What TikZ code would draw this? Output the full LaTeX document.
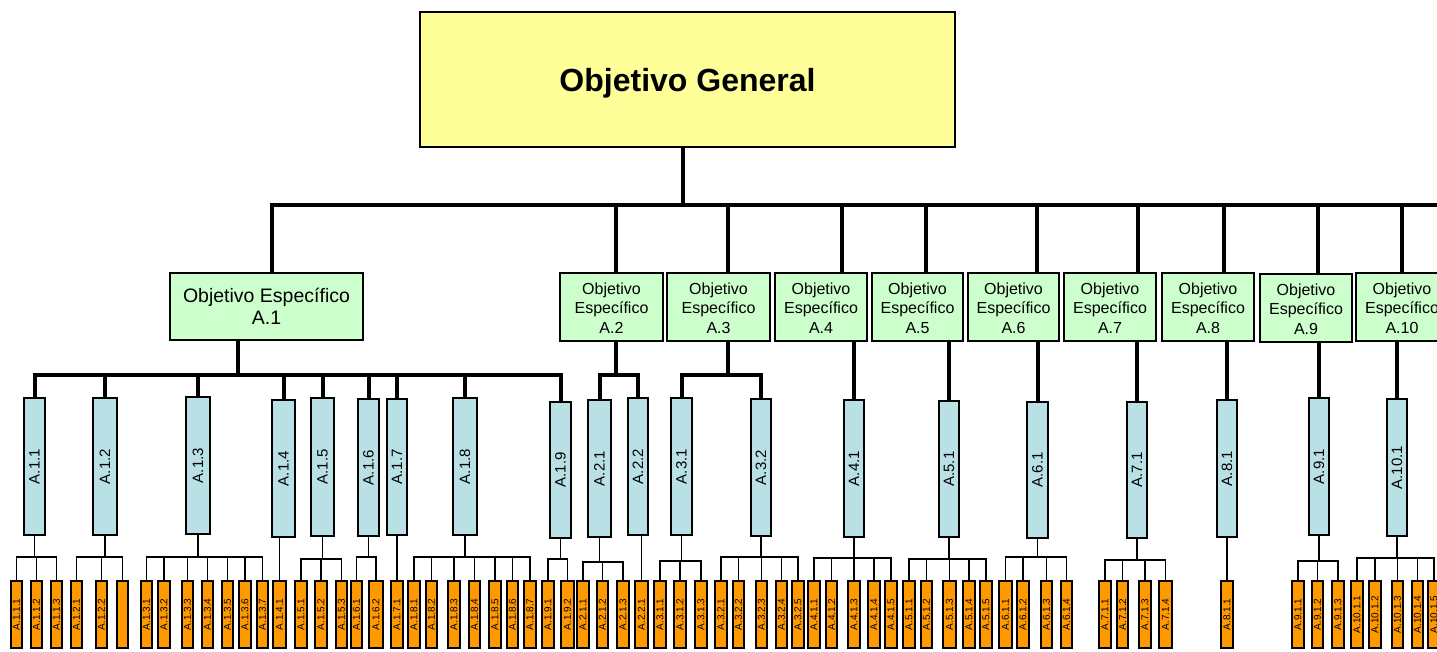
\documentclass[tikz,border=0pt]{standalone}
\usepackage{fontspec}
\setmainfont{Liberation Sans}
\usepackage{graphicx}
\usetikzlibrary{calc}
\definecolor{yel}{RGB}{255,255,153}
\definecolor{lgreen}{RGB}{204,255,204}
\definecolor{lblue}{RGB}{185,224,228}
\definecolor{orng}{RGB}{255,153,0}
\tikzset{
  thk/.style={line width=4pt},
  thn/.style={line width=1.3pt},
  genbox/.style={draw, fill=yel, line width=1.2pt, inner sep=0pt, text depth=0pt, font=\fontsize{32}{36}\selectfont\bfseries},
  objbox/.style={draw, fill=lgreen, line width=1.2pt, inner sep=0pt, align=center, font=\fontsize{16}{19.5}\selectfont},
  objbig/.style={objbox, font=\fontsize{19.5}{21.5}\selectfont},
  actbox/.style={draw, fill=lblue, line width=1.2pt, inner sep=0pt, font=\fontsize{15}{18}\selectfont},
  obox/.style={draw, fill=orng, line width=1.2pt, inner sep=0pt, font=\fontsize{10}{12}\selectfont},
}
\newcommand\bx[7]{\node[#1, minimum width={(#4-#3)*1pt}, minimum height={(#6-#5)*1pt}] (#2) at ({(#3+#4)/2},{(#5+#6)/2}) {#7};}
\newcommand\ob[4]{\bx{obox}{#1}{#2}{#3}{581}{648}{\rotatebox{90}{#4}}}
\newcommand\ab[6]{\bx{actbox}{#1}{#2}{#3}{#4}{#5}{\rotatebox{90}{#6}}}
\newcommand\subbar[3]{\coordinate (#1k) at (#1.south |- 0,#2); \draw[thn] (#1.south) -- (#1k); \foreach \ch in {#3} {\draw[thn] (\ch.north) |- (#1k);}}
\begin{document}
\begin{tikzpicture}[x=1pt,y=-1pt]
\clip (0,0) rectangle (1437,652);
\fill[white] (0,0) rectangle (1437,652);
% top
\bx{genbox}{gen}{420}{955}{12}{147}{Objetivo General}
% level 2
\bx{objbig}{A1}{170}{363}{273}{340}{Objetivo Específico\\A.1}
\bx{objbox}{A2}{560}{663}{273}{341}{\strut Objetivo\\Específico\\A.2}
\bx{objbox}{A3}{667}{770}{273}{341}{\strut Objetivo\\Específico\\A.3}
\bx{objbox}{A4}{775}{867}{273}{341}{\strut Objetivo\\Específico\\A.4}
\bx{objbox}{A5}{872}{963}{273}{341}{\strut Objetivo\\Específico\\A.5}
\bx{objbox}{A6}{968}{1059}{273}{341}{\strut Objetivo\\Específico\\A.6}
\bx{objbox}{A7}{1064}{1156}{273}{341}{\strut Objetivo\\Específico\\A.7}
\bx{objbox}{A8}{1162}{1254}{273}{341}{\strut Objetivo\\Específico\\A.8}
\bx{objbox}{A9}{1260}{1352}{274}{342}{\strut Objetivo\\Específico\\A.9}
\bx{objbox}{A10}{1356}{1448}{273}{341}{\strut Objetivo\\Específico\\A.10}
% level 3
\ab{c11}{24}{45}{398}{535}{A.1.1}
\ab{c12}{93}{117}{398}{535}{A.1.2}
\ab{c13}{186}{210}{397}{534}{A.1.3}
\ab{c14}{272}{295}{400}{537}{A.1.4}
\ab{c15}{311}{334}{398}{536}{A.1.5}
\ab{c16}{358}{379}{399}{536}{A.1.6}
\ab{c17}{387}{407}{399}{535}{A.1.7}
\ab{c18}{453}{477}{398}{535}{A.1.8}
\ab{c19}{550}{571}{402}{538}{A.1.9}
\ab{c21}{588}{611}{400}{537}{A.2.1}
\ab{c22}{628}{648}{398}{535}{A.2.2}
\ab{c31}{671}{692}{398}{535}{A.3.1}
\ab{c32}{751}{771}{399}{536}{A.3.2}
\ab{c41}{844}{864}{400}{537}{A.4.1}
\ab{c51}{939}{959}{401}{537}{A.5.1}
\ab{c61}{1027}{1048}{402}{538}{A.6.1}
\ab{c71}{1127}{1147}{402}{538}{A.7.1}
\ab{c81}{1217}{1237}{400}{537}{A.8.1}
\ab{c91}{1309}{1329}{398}{535}{A.9.1}
\ab{c101}{1387}{1407}{399}{536}{A.10.1}
% level 4
\ob{d111}{11}{22}{A.1.1.1}
\ob{d112}{31}{42}{A.1.1.2}
\ob{d113}{51}{62}{A.1.1.3}
\ob{d121}{71}{82}{A.1.2.1}
\ob{d122}{96}{107}{A.1.2.2}
\ob{d12x}{117}{128}{}
\ob{d131}{141}{152}{A.1.3.1}
\ob{d132}{158}{170}{A.1.3.2}
\ob{d133}{182}{193}{A.1.3.3}
\ob{d134}{202}{213}{A.1.3.4}
\ob{d135}{222}{233}{A.1.3.5}
\ob{d136}{239}{251}{A.1.3.6}
\ob{d137}{257}{268}{A.1.3.7}
\ob{d141}{273}{286}{A.1.4.1}
\ob{d151}{295}{307}{A.1.5.1}
\ob{d152}{315}{327}{A.1.5.2}
\ob{d153}{336}{347}{A.1.5.3}
\ob{d161}{351}{362}{A.1.6.1}
\ob{d162}{369}{383}{A.1.6.2}
\ob{d171}{391}{403}{A.1.7.1}
\ob{d181}{408}{420}{A.1.8.1}
\ob{d182}{426}{437}{A.1.8.2}
\ob{d183}{448}{460}{A.1.8.3}
\ob{d184}{469}{480}{A.1.8.4}
\ob{d185}{489}{501}{A.1.8.5}
\ob{d186}{507}{518}{A.1.8.6}
\ob{d187}{524}{536}{A.1.8.7}
\ob{d191}{542}{554}{A.1.9.1}
\ob{d192}{561}{574}{A.1.9.2}
\ob{d211}{577}{589}{A.2.1.1}
\ob{d212}{597}{608}{A.2.1.2}
\ob{d213}{617}{629}{A.2.1.3}
\ob{d221}{635}{648}{A.2.2.1}
\ob{d311}{654}{666}{A.3.1.1}
\ob{d312}{674}{686}{A.3.1.2}
\ob{d313}{695}{707}{A.3.1.3}
\ob{d321}{715}{727}{A.3.2.1}
\ob{d322}{733}{744}{A.3.2.2}
\ob{d323}{756}{767}{A.3.2.3}
\ob{d324}{776}{787}{A.3.2.4}
\ob{d325}{792}{804}{A.3.2.5}
\ob{d411}{808}{820}{A.4.1.1}
\ob{d412}{826}{837}{A.4.1.2}
\ob{d413}{848}{860}{A.4.1.3}
\ob{d414}{868}{880}{A.4.1.4}
\ob{d415}{885}{897}{A.4.1.5}
\ob{d511}{903}{915}{A.5.1.1}
\ob{d512}{921}{932}{A.5.1.2}
\ob{d513}{943}{956}{A.5.1.3}
\ob{d514}{963}{975}{A.5.1.4}
\ob{d515}{980}{992}{A.5.1.5}
\ob{d611}{999}{1012}{A.6.1.1}
\ob{d612}{1017}{1029}{A.6.1.2}
\ob{d613}{1041}{1052}{A.6.1.3}
\ob{d614}{1061}{1072}{A.6.1.4}
\ob{d711}{1099}{1111}{A.7.1.1}
\ob{d712}{1117}{1128}{A.7.1.2}
\ob{d713}{1139}{1151}{A.7.1.3}
\ob{d714}{1159}{1172}{A.7.1.4}
\ob{d811}{1221}{1233}{A.8.1.1}
\ob{d911}{1292}{1304}{A.9.1.1}
\ob{d912}{1312}{1323}{A.9.1.2}
\ob{d913}{1332}{1344}{A.9.1.3}
\ob{d1011}{1351}{1363}{A.10.1.1}
\ob{d1012}{1369}{1381}{A.10.1.2}
\ob{d1013}{1392}{1403}{A.10.1.3}
\ob{d1014}{1412}{1423}{A.10.1.4}
\ob{d1015}{1428}{1440}{A.10.1.5}
% connectors: top
\coordinate (jg) at (683,205);
\coordinate (tR) at (1440,205);
\coordinate (t1) at (272,205);
\coordinate (t2) at (616,205);
\coordinate (t3) at (728,205);
\coordinate (t4) at (842,205);
\coordinate (t5) at (926,205);
\coordinate (t6) at (1037,205);
\coordinate (t7) at (1138,205);
\coordinate (t8) at (1224,205);
\coordinate (t9) at (1318,205);
\coordinate (t10) at (1402,205);
\draw[thk] (gen.south -| jg) -- (jg);
\draw[thk] (A1.north -| t1) |- (tR);
\foreach \n in {2,...,10} {\draw[thk] (t\n) -- (t\n |- A\n.north);}
% level 2 to 3
\coordinate (j1) at (238,375);
\draw[thk] (A1.south -| j1) -- (j1);
\foreach \ch in {c11,c12,c13,c14,c15,c16,c17,c18,c19} {\draw[thk] (\ch.north) |- (j1);}
\coordinate (j2) at (616,375);
\draw[thk] (A2.south -| j2) -- (j2);
\foreach \ch in {c21,c22} {\draw[thk] (\ch.north) |- (j2);}
\coordinate (j3) at (728,375);
\draw[thk] (A3.south -| j3) -- (j3);
\foreach \ch in {c31,c32} {\draw[thk] (\ch.north) |- (j3);}
\draw[thk] (c41.north) -- (c41.north |- A4.south);
\draw[thk] (c51.north) -- (c51.north |- A5.south);
\draw[thk] (c61.north) -- (c61.north |- A6.south);
\draw[thk] (c71.north) -- (c71.north |- A7.south);
\draw[thk] (c81.north) -- (c81.north |- A8.south);
\draw[thk] (c91.north) -- (c91.north |- A9.south);
\draw[thk] (c101.north) -- (c101.north |- A10.south);
% level 3 to 4
\subbar{c11}{557}{d111,d112,d113}
\subbar{c12}{557}{d121,d122,d12x}
\subbar{c13}{557}{d131,d132,d133,d134,d135,d136,d137}
\draw[thn] (d141.north) -- (d141.north |- c14.south);
\subbar{c15}{559}{d151,d152,d153}
\subbar{c16}{557}{d161,d162}
\draw[thn] (d171.north) -- (d171.north |- c17.south);
\subbar{c18}{557}{d181,d182,d183,d184,d185,d186,d187}
\subbar{c19}{559}{d191,d192}
\subbar{c21}{562}{d211,d212,d213}
\draw[thn] (d221.north) -- (d221.north |- c22.south);
\subbar{c31}{561}{d311,d312,d313}
\subbar{c32}{557}{d321,d322,d323,d324,d325}
\subbar{c41}{558}{d411,d412,d413,d414,d415}
\subbar{c51}{559}{d511,d512,d513,d514,d515}
\subbar{c61}{557}{d611,d612,d613,d614}
\subbar{c71}{560}{d711,d712,d713,d714}
\draw[thn] (d811.north) -- (d811.north |- c81.south);
\subbar{c91}{561}{d911,d912,d913}
\subbar{c101}{558}{d1011,d1012,d1013,d1014,d1015}
\end{tikzpicture}
\end{document}
